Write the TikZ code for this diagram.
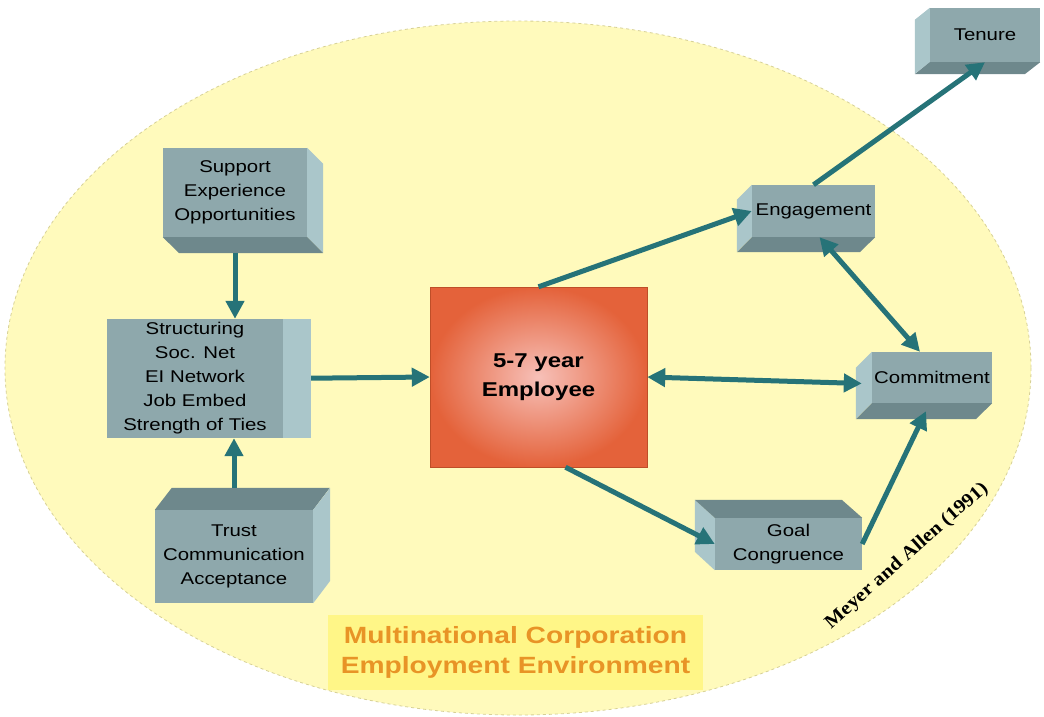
\documentclass[tikz,border=0pt]{standalone}
\usepackage{fontspec}
\setmainfont{Liberation Sans}[FakeStretch=1.2]
\newfontfamily\refserif{Liberation Serif}[FakeStretch=1.1]
\usetikzlibrary{arrows.meta}

\definecolor{ovalfill}{RGB}{255,250,188}
\definecolor{ovalline}{RGB}{214,208,150}
\definecolor{boxfront}{RGB}{142,168,172}
\definecolor{boxlight}{RGB}{170,198,202}
\definecolor{boxdark}{RGB}{110,136,140}
\definecolor{flowcol}{RGB}{38,115,120}
\definecolor{empouter}{RGB}{228,98,58}
\definecolor{empinner}{RGB}{247,192,184}
\definecolor{empedge}{RGB}{190,78,40}
\definecolor{bannerfill}{RGB}{255,246,135}
\definecolor{bannertext}{RGB}{232,148,38}

\begin{document}
\begin{tikzpicture}[
    x=1pt, y=-1pt,
    block/.style={fill=boxfront, inner sep=0pt, align=center, text=black,
        font=\fontsize{17}{24}\selectfont},
    employee/.style={inner color=empinner, outer color=empouter, draw=empedge,
        inner sep=0pt, align=center, minimum width=217pt, minimum height=180pt,
        font=\fontsize{20}{29}\selectfont\bfseries},
    banner/.style={fill=bannerfill, text=bannertext, inner sep=0pt, align=center,
        minimum width=375pt, minimum height=75pt,
        font=\fontsize{23.5}{30}\selectfont\bfseries},
    flow/.style={draw=flowcol, line width=5pt},
    >={Triangle[length=18pt, width=18pt]},
]
    \useasboundingbox (0,0) rectangle (1044,717);

    % environment oval
    \fill[ovalfill] (518,368) ellipse [x radius=513, y radius=347];
    \draw[ovalline, dashed, line width=0.8pt] (518,368) ellipse [x radius=513, y radius=347];

    \node[banner] (env) at (515.5,652.5) {Multinational Corporation\\Employment Environment};

    % front faces
    \node[block, minimum width=144pt, minimum height=89pt] (support) at (235,192.5)
        {Support\\Experience\\Opportunities};
    \node[block, minimum width=176pt, minimum height=119pt] (struct) at (195,378.5)
        {Structuring\\Soc. Net\\EI Network\\Job Embed\\Strength of Ties};
    \node[block, minimum width=158pt, minimum height=93pt] (trust) at (234,556.5)
        {Trust\\Communication\\Acceptance};
    \node[employee] (employee) at (538.5,377) {5-7 year\\Employee};
    \node[block, minimum width=123pt, minimum height=52pt] (engagement) at (813.5,211) {Engagement};
    \node[block, minimum width=120pt, minimum height=51pt] (commitment) at (932,377.5) {Commitment};
    \node[block, minimum width=147pt, minimum height=52pt] (goal) at (788.5,544) {Goal\\Congruence};
    \node[block, minimum width=110pt, minimum height=54pt] (tenure) at (985,35) {Tenure};

    % depth faces
    \fill[boxlight] (support.north east) -- ++(16,16) -- ++(0,89) -- (support.south east) -- cycle;
    \fill[boxdark] (support.south west) -- (support.south east) -- ++(16,16) -- ++(-144,0) -- cycle;

    \fill[boxlight] (struct.north east) rectangle ++(28,119);

    \fill[boxdark] (trust.north west) -- ++(17,-22) -- ++(158,0) -- (trust.north east) -- cycle;
    \fill[boxlight] (trust.north east) -- ++(17,-22) -- ++(0,93) -- (trust.south east) -- cycle;

    \fill[boxlight] (engagement.north west) -- ++(-15,15) -- ++(0,52) -- (engagement.south west) -- cycle;
    \fill[boxdark] (engagement.south west) -- ++(-15,15) -- ++(123,0) -- (engagement.south east) -- cycle;

    \fill[boxlight] (commitment.north west) -- ++(-16,16) -- ++(0,51) -- (commitment.south west) -- cycle;
    \fill[boxdark] (commitment.south west) -- ++(-16,16) -- ++(120,0) -- (commitment.south east) -- cycle;

    \fill[boxlight] (goal.north west) -- ++(-20,-18) -- ++(0,52) -- (goal.south west) -- cycle;
    \fill[boxdark] (goal.north west) -- ++(-20,-18) -- ++(147,0) -- (goal.north east) -- cycle;

    \fill[boxlight] (tenure.north west) -- ++(-15,12) -- ++(0,54) -- (tenure.south west) -- cycle;
    \fill[boxdark] (tenure.south west) -- ++(-15,12) -- ++(110,0) -- (tenure.south east) -- cycle;

    % connectors
    \draw[flow, ->, shorten <=16pt] (support.south) -- (support.south |- struct.north);
    \draw[flow, ->, shorten <=22pt] (trust.north) -- (trust.north |- struct.south);
    \draw[flow, ->, shorten <=28pt] (struct.east) -- (employee.west);
    \draw[flow, ->] (employee.north) -- (engagement.west);
    \draw[flow, ->] (engagement.north) -- (tenure.south);
    \draw[flow, <->] ([xshift=6pt]engagement.south) -- ([xshift=-12pt]commitment.north);
    \draw[flow, <->] (employee.east) -- ([xshift=-10pt, yshift=-6pt]commitment.west);
    \draw[flow, ->] ([xshift=27pt]employee.south) -- (goal.west);
    \draw[flow, ->] (goal.east) -- ([xshift=-6pt, yshift=-8pt]commitment.south);

    \node[rotate=41.5, font=\refserif\fontsize{19}{19}\selectfont\bfseries] (source) at (907,556)
        {Meyer and Allen (1991)};
\end{tikzpicture}
\end{document}
